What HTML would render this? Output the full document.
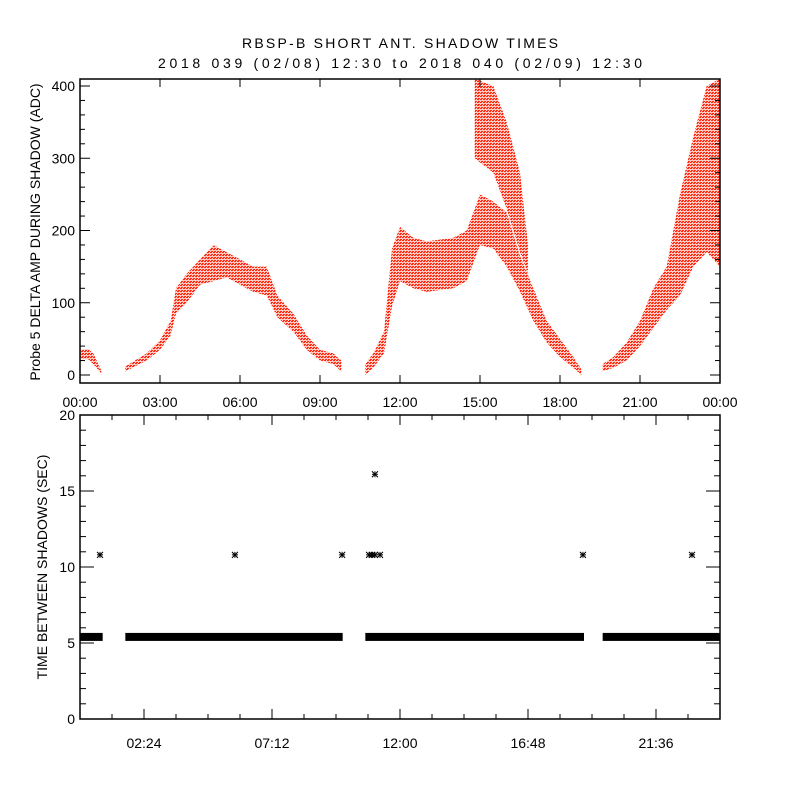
<!DOCTYPE html>
<html><head><meta charset="utf-8"><style>
html,body{margin:0;padding:0;background:#fff;}
svg{display:block;font-family:"Liberation Sans",sans-serif;}
text{font-size:14px;fill:#000;}
</style></head><body>
<svg id="c" width="800" height="800" viewBox="0 0 800 800">
<defs>
<pattern id="dots" width="3" height="3" patternUnits="userSpaceOnUse">
<rect x="0" y="0" width="3" height="3" fill="#ff2a10" fill-opacity="0.25"/>
<rect x="0" y="0" width="2" height="1" fill="#ff2a10"/>
<rect x="1" y="2" width="2" height="1" fill="#ff2a10"/>
</pattern>
</defs>
<text x="400" y="48" text-anchor="middle" font-size="16" textLength="316" lengthAdjust="spacing">RBSP-B SHORT ANT. SHADOW TIMES</text>
<text x="400" y="68" text-anchor="middle" font-size="16" textLength="484" lengthAdjust="spacing">2018 039 (02/08) 12:30 to 2018 040 (02/09) 12:30</text>
<g id="topPanel"></g>
<g id="botPanel"></g>
</svg>
<script>
// ---- data: top panel bands (hours, lower ADC, upper ADC) ----
const segATimes=[0,0.3,0.5,0.8];
const segALo=[22,22,15,2];
const segAHi=[35,36,30,6];
const segBTimes=[1.7,2.5,3.0,3.4,3.6,4.0,4.5,5.0,5.5,6.0,6.5,7.0,7.4,8.0,8.5,9.0,9.5,9.8];
const segBLo=[5,20,35,55,85,100,125,130,135,125,115,110,80,60,35,20,15,5];
const segBHi=[12,30,48,75,120,140,160,180,170,160,150,150,110,85,55,35,30,20];
const segCTimes=[10.7,11.0,11.4,11.7,12.0,12.5,13.0,14.0,14.5,15.0,15.5,16.0,16.5,17.0,17.5,18.0,18.5,18.8];
const segCLo=[0,10,30,95,130,120,115,120,130,180,175,150,115,75,45,25,10,0];
const segCHi=[15,30,60,175,205,190,185,190,200,250,240,225,165,120,75,50,25,8];
const segUTimes=[14.8,15.5,16.0,16.5,16.8];
const segULo=[300,280,230,170,140];
const segUHi=[410,400,350,280,180];
const segDTimes=[19.6,20.0,20.5,21.0,21.5,22.0,22.5,23.0,23.5,24.0];
const segDLo=[5,10,20,40,65,90,110,150,170,150];
const segDHi=[15,25,45,75,120,150,250,330,400,410];
// ---- data: bottom panel ----
const runStarts=[0,1.7,10.7,19.6];
const runEnds=[0.85,9.85,18.9,24];
const runValue=5.4;
const outTimes=[0.75,5.81,9.83,10.84,10.95,11.06,11.25,18.86,22.95,11.06];
const outValues=[10.8,10.8,10.8,10.8,10.8,10.8,10.8,10.8,10.8,16.1];
const topYTicks=[0,100,200,300,400];
const topXLabels=["00:00","03:00","06:00","09:00","12:00","15:00","18:00","21:00","00:00"];
const botYTicks=[0,5,10,15,20];
const botXLabels=["02:24","07:12","12:00","16:48","21:36"];

const NS="http://www.w3.org/2000/svg";
function mk(p,tag,a){const e=document.createElementNS(NS,tag);for(const k in a)e.setAttribute(k,a[k]);p.appendChild(e);return e;}
const L=80,R=720;
const xs=h=>L+h/24*(R-L);
const tT=79,tB=383;
const ty=v=>375-v*0.7225;
const bT=415,bB=719;
const by=v=>bB-v/20*(bB-bT);

const topG=document.getElementById('topPanel');
const botG=document.getElementById('botPanel');

const clip=mk(topG,'clipPath',{id:'tc'});mk(clip,'rect',{x:L,y:tT,width:R-L,height:tB-tT});
function band(times,lo,hi,name){
  let pts=times.map((t,i)=>xs(t)+','+ty(hi[i]));
  for(let i=times.length-1;i>=0;i--)pts.push(xs(times[i])+','+ty(lo[i]));
  const p=mk(topG,'polygon',{points:pts.join(' '),fill:'url(#dots)','clip-path':'url(#tc)'});
  
  
}
band(segATimes,segALo,segAHi,'amp-band-a');
band(segBTimes,segBLo,segBHi,'amp-band-b');
band(segCTimes,segCLo,segCHi,'amp-band-c');
band(segUTimes,segULo,segUHi,'amp-band-c-upper');
band(segDTimes,segDLo,segDHi,'amp-band-d');

function frame(g,T,B,name){
  const r=mk(g,'rect',{x:L,y:T,width:R-L,height:B-T,fill:'none',stroke:'#000','stroke-width':1.5});
  
  
}
frame(topG,tT,tB,'amp-plot-frame');
frame(botG,bT,bB,'interval-plot-frame');

for(let v=0;v<=400;v+=20){
  const y=ty(v);const len=v%100===0?10:5;
  mk(topG,'line',{x1:L,x2:L+len,y1:y,y2:y,stroke:'#000'});
  mk(topG,'line',{x1:R,x2:R-len,y1:y,y2:y,stroke:'#000'});
}
topYTicks.forEach(v=>{const t=mk(topG,'text',{x:L-5,y:ty(v)+5,'text-anchor':'end','font-size':15});t.textContent=v;

});
topXLabels.forEach((s,i)=>{const x=xs(i*3);
mk(topG,'line',{x1:x,x2:x,y1:tB,y2:tB-8,stroke:'#000'});mk(topG,'line',{x1:x,x2:x,y1:tT,y2:tT+8,stroke:'#000'});
const t=mk(topG,'text',{x:x,y:407,'text-anchor':'middle','font-size':15});t.textContent=s;

});
const yt=mk(topG,'text',{transform:'translate(40,232) rotate(-90)','text-anchor':'middle'});yt.textContent='Probe 5 DELTA AMP DURING SHADOW (ADC)';



for(let v=0;v<=20;v+=1){const y=by(v);const len=v%5===0?14:6;mk(botG,'line',{x1:L,x2:L+len,y1:y,y2:y,stroke:'#000'});mk(botG,'line',{x1:R,x2:R-len,y1:y,y2:y,stroke:'#000'});}
botYTicks.forEach(v=>{const t=mk(botG,'text',{x:L-5,y:by(v)+5,'text-anchor':'end','font-size':15});t.textContent=v;

});
for(let k=0;k<=20;k++){const x=xs(k*1.2);const len=(k%4===2)?10:5;
mk(botG,'line',{x1:x,x2:x,y1:bB,y2:bB-len,stroke:'#000'});mk(botG,'line',{x1:x,x2:x,y1:bT,y2:bT+len,stroke:'#000'});}
botXLabels.forEach((s,i)=>{const t=mk(botG,'text',{x:xs(2.4+i*4.8),y:748,'text-anchor':'middle','font-size':15});t.textContent=s;

});
const yb=mk(botG,'text',{transform:'translate(47,567) rotate(-90)','text-anchor':'middle'});yb.textContent='TIME BETWEEN SHADOWS (SEC)';



runStarts.forEach((s,i)=>{const r=mk(botG,'rect',{x:xs(s),y:by(runValue)-4,width:xs(runEnds[i])-xs(s),height:8,fill:'#000'});

});
outTimes.forEach((t,i)=>{const x=xs(t),y=by(outValues[i]);const g=mk(botG,'g',{stroke:'#000','stroke-width':1});


mk(g,'line',{x1:x-3,x2:x+3,y1:y,y2:y});mk(g,'line',{x1:x,x2:x,y1:y-3,y2:y+3});
mk(g,'line',{x1:x-3,x2:x+3,y1:y-3,y2:y+3});mk(g,'line',{x1:x-3,x2:x+3,y1:y+3,y2:y-3});});
</script>
</body></html>
